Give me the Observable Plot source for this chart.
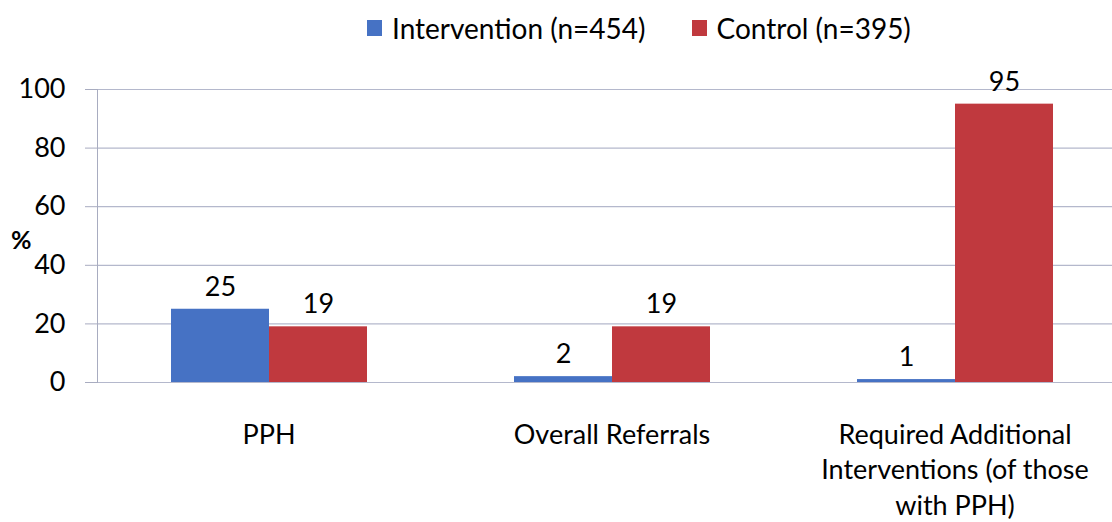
<!DOCTYPE html>
<html>
<head>
<meta charset="utf-8">
<script src="https://cdn.jsdelivr.net/npm/d3@7"></script>
<script src="https://cdn.jsdelivr.net/npm/@observablehq/plot@0.6"></script>
<style>
  html, body { margin: 0; padding: 0; background: #fff; overflow: hidden; }
  #wrap { width: 1112px; height: 522px; overflow: hidden; position: relative; font-family: Lato, "Open Sans", sans-serif; }
  #legend { position: absolute; left: 367px; top: 8px; height: 40px; display: flex; align-items: center; font-size: 28px; color: #000; white-space: nowrap; }
  .item { display: flex; align-items: center; }
  .item + .item { margin-left: 46px; }
  .sw { width: 15px; height: 16px; margin-right: 10px; display: inline-block; }
  #chart { position: absolute; left: 0; top: 50px; width: 1126px; }
  #chart svg { max-width: none; }
  .pct { position: absolute; left: 11px; top: 224px; font-size: 25px; font-weight: bold; font-family: Lato, sans-serif; }
</style>
</head>
<body>
<div id="wrap">
  <div id="legend"></div>
  <div class="pct">%</div>
  <div id="chart"></div>
</div>
<script>
const categories = ["PPH", "Overall Referrals", "Required Additional Interventions (of those with PPH)"];
const categoryLabels = ["PPH", "Overall Referrals", "Required Additional\nInterventions (of those\nwith PPH)"];
const series = ["Intervention (n=454)", "Control (n=395)"];
const interventionValues = [25, 2, 1];
const controlValues = [19, 19, 95];
const yTicks = [0, 20, 40, 60, 80, 100];
const colors = ["#4672c4", "#c0393e"];

const data = categories.flatMap((c, i) => [
  {cat: c, series: series[0], v: interventionValues[i]},
  {cat: c, series: series[1], v: controlValues[i]}
]);

const legend = document.getElementById("legend");
series.forEach((s, i) => {
  const it = document.createElement("div");
  it.className = "item";
  const sw = document.createElement("span");
  sw.className = "sw";
  sw.style.background = colors[i];
  const t = document.createElement("span");
  t.textContent = s;
  it.appendChild(sw);
  it.appendChild(t);
  legend.appendChild(it);
});

const labelOf = new Map(categories.map((c, i) => [c, categoryLabels[i]]));

const chart = Plot.plot({
  width: 1126,
  height: 472,
  marginLeft: 96,
  marginRight: 0,
  marginTop: 39,
  marginBottom: 140,
  style: {fontFamily: "Lato, 'Open Sans', sans-serif", fontSize: "27px", color: "#000", background: "transparent", maxWidth: "none"},
  fx: {domain: categories, padding: 0, label: null, axis: null},
  x: {domain: series, paddingInner: 0, paddingOuter: 0.75, axis: null},
  y: {domain: [0, 100], label: null},
  color: {domain: series, range: colors},
  marks: [
    Plot.gridY(yTicks, {stroke: "#b4b8cc", strokeOpacity: 1, strokeWidth: 1.2}),
    Plot.axisY(yTicks, {tickSize: 12, tickPadding: 20, stroke: "#a8acc0", fontSize: 27, label: null}),
    Plot.frame({anchor: "left", facetAnchor: "left", stroke: "#a8acc0"}),
    Plot.barY(data, {fx: "cat", x: "series", y: "v", fill: "series"}),
    Plot.text(data, {fx: "cat", x: "series", y: "v", text: d => String(d.v), dy: -22, fontSize: 27, fill: "#000"}),
    Plot.axisFx({anchor: "bottom", tickSize: 0, tickPadding: 36, lineAnchor: "top", lineHeight: 1.32, fontSize: 27, label: null, tickFormat: d => labelOf.get(d)})
  ]
});
document.getElementById("chart").appendChild(chart);
</script>
</body>
</html>
